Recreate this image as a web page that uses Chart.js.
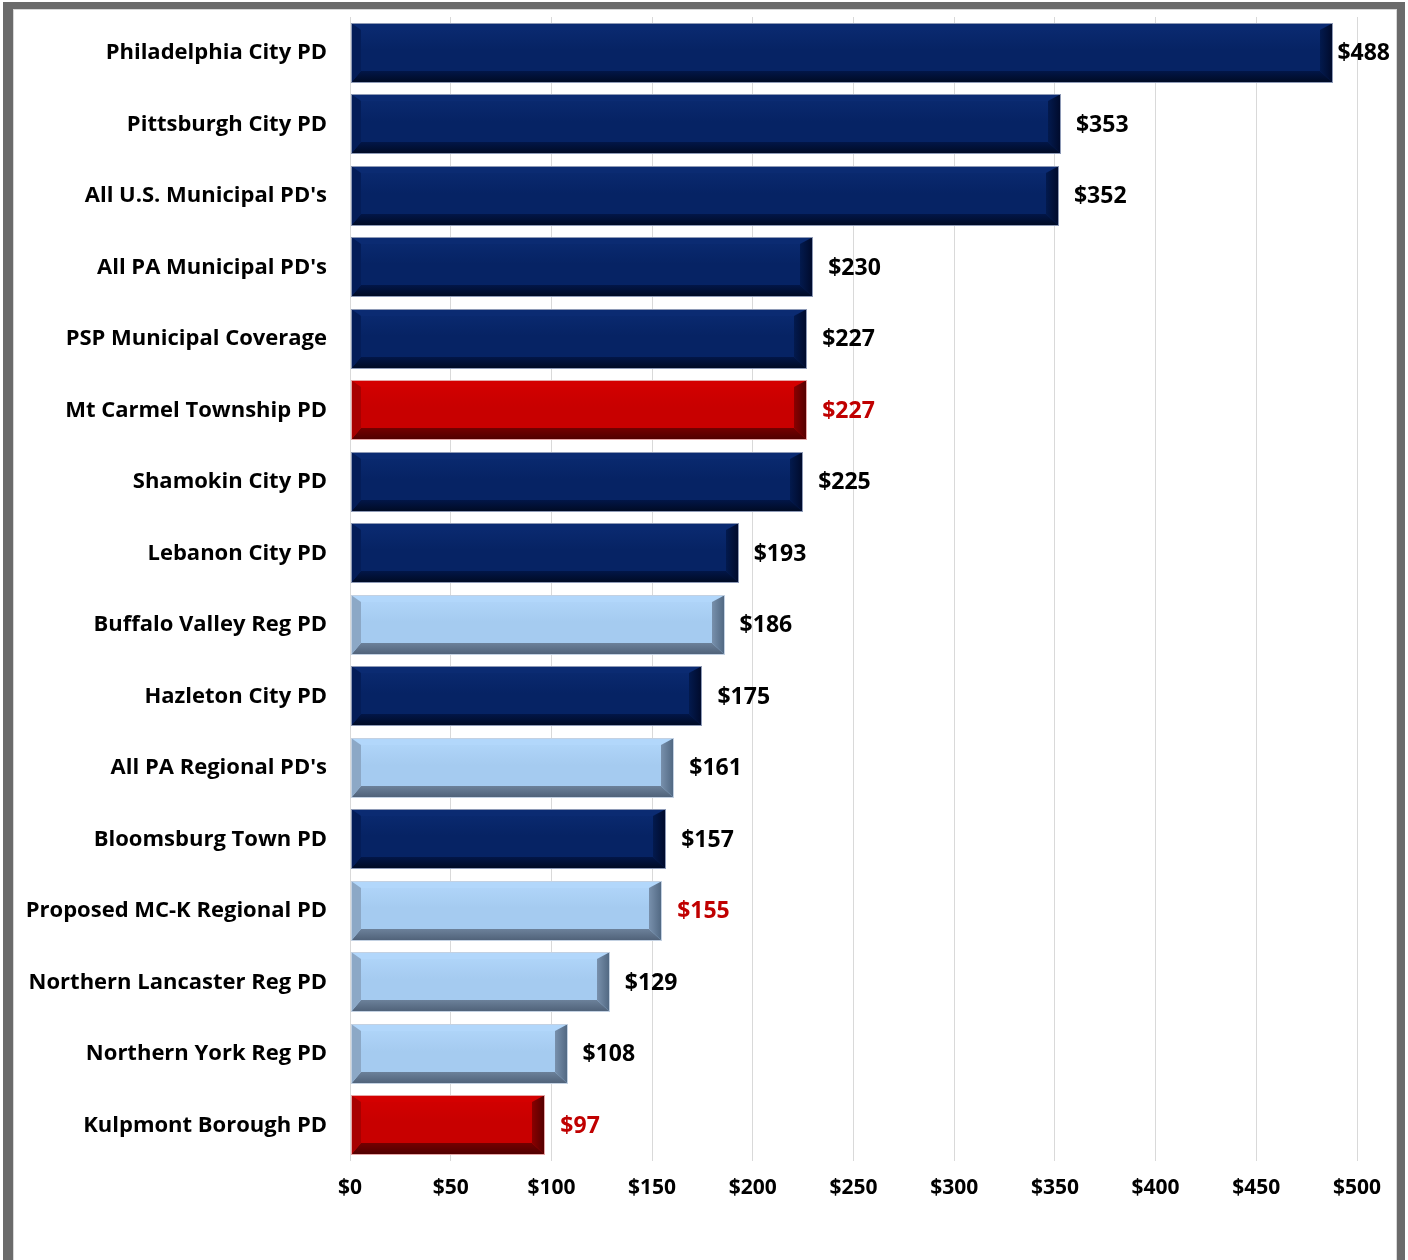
<!DOCTYPE html>
<html>
<head>
<meta charset="utf-8">
<title>Police cost per capita</title>
<script src="https://cdn.jsdelivr.net/npm/chart.js@4.4.1/dist/chart.umd.min.js"></script>
<style>
  html, body { margin: 0; padding: 0; background: #fff; }
  .wrap { position: relative; width: 1408px; height: 1260px; overflow: hidden; }
  .frame {
    position: absolute; left: 3px; top: 2px; width: 1384px; height: 1300px;
    border-left: 10px solid #6b6b6b; border-top: 7px solid #6b6b6b; border-right: 8px solid #6b6b6b;
    box-shadow: inset 1px 1px 0 #d8d8d8, inset -1px 0 0 #d8d8d8;
    pointer-events: none;
  }
  canvas { position: absolute; left: 0; top: 0; }
</style>
</head>
<body>
<div class="wrap">
  <canvas id="costChart" width="1408" height="1260"></canvas>
  <div class="frame"></div>
</div>
<script>
  // data
  const categories = [
    'Philadelphia City PD', 'Pittsburgh City PD', "All U.S. Municipal PD's", "All PA Municipal PD's",
    'PSP Municipal Coverage', 'Mt Carmel Township PD', 'Shamokin City PD', 'Lebanon City PD',
    'Buffalo Valley Reg PD', 'Hazleton City PD', "All PA Regional PD's", 'Bloomsburg Town PD',
    'Proposed MC-K Regional PD', 'Northern Lancaster Reg PD', 'Northern York Reg PD', 'Kulpmont Borough PD'
  ];
  const costs = [488, 353, 352, 230, 227, 227, 225, 193, 186, 175, 161, 157, 155, 129, 108, 97];
  // 'city' = municipal department, 'regional' = regional department, 'study' = the two under review
  const kinds = [
    'city', 'city', 'city', 'city', 'city', 'study', 'city', 'city',
    'regional', 'city', 'regional', 'city', 'regional', 'regional', 'regional', 'study'
  ];
  const redLabels = ['Mt Carmel Township PD', 'Proposed MC-K Regional PD', 'Kulpmont Borough PD'];
  const xTicks = [0, 50, 100, 150, 200, 250, 300, 350, 400, 450, 500];

  const FONT = '"Open Sans", Lato, sans-serif';

  const palettes = {
    city:     { face: '#062364', top: '#0b2b72', left: '#041d58', right1: '#031a4e', right2: '#000a2a', bot1: '#021648', bot2: '#000a22', border: '#8e9ab6' },
    study:    { face: '#c80000', top: '#d40000', left: '#a80000', right1: '#8a0000', right2: '#520000', bot1: '#740000', bot2: '#4e0000', border: '#e6a6a6' },
    regional: { face: '#a5cbf0', top: '#b2d7fb', left: '#8ca8c6', right1: '#7890ac', right2: '#4f6680', bot1: '#6c819a', bot2: '#4e6077', border: '#c3d1e2' }
  };

  function poly(ctx, pts, fill) {
    ctx.beginPath();
    ctx.moveTo(pts[0][0], pts[0][1]);
    for (let i = 1; i < pts.length; i++) ctx.lineTo(pts[i][0], pts[i][1]);
    ctx.closePath();
    ctx.fillStyle = fill;
    ctx.fill();
  }

  const bevelPlugin = {
    id: 'bevel',
    afterDatasetsDraw(chart) {
      const ctx = chart.ctx;
      const meta = chart.getDatasetMeta(0);
      ctx.save();
      meta.data.forEach(function (bar, i) {
        const p = bar.getProps(['x', 'y', 'base', 'height'], true);
        const pal = palettes[kinds[i]];
        const x0 = Math.round(p.base), x1 = Math.round(p.x);
        const yT = Math.round(p.y - p.height / 2), yB = Math.round(p.y + p.height / 2);
        const L = 10, R = 13, T = 7, B = 12;

        // face with soft sheen
        const face = ctx.createLinearGradient(0, yT, 0, yB);
        face.addColorStop(0, pal.top);
        face.addColorStop(0.45, pal.face);
        face.addColorStop(1, pal.face);
        ctx.fillStyle = face;
        ctx.fillRect(x0, yT, x1 - x0, yB - yT);

        poly(ctx, [[x0, yT], [x1, yT], [x1 - R, yT + T], [x0 + L, yT + T]], pal.top);
        const bg = ctx.createLinearGradient(0, yB - B, 0, yB);
        bg.addColorStop(0, pal.bot1);
        bg.addColorStop(1, pal.bot2);
        poly(ctx, [[x0, yB], [x1, yB], [x1 - R, yB - B], [x0 + L, yB - B]], bg);
        poly(ctx, [[x0, yT], [x0 + L, yT + T], [x0 + L, yB - B], [x0, yB]], pal.left);
        const rg = ctx.createLinearGradient(x1 - R, 0, x1, 0);
        rg.addColorStop(0, pal.right1);
        rg.addColorStop(1, pal.right2);
        poly(ctx, [[x1, yT], [x1 - R, yT + T], [x1 - R, yB - B], [x1, yB]], rg);

        ctx.strokeStyle = pal.border;
        ctx.lineWidth = 1;
        ctx.strokeRect(x0 + 0.5, yT + 0.5, x1 - x0 - 1, yB - yT - 1);
      });
      ctx.restore();
    },
    afterDraw(chart) {
      const ctx = chart.ctx;
      const meta = chart.getDatasetMeta(0);
      ctx.save();
      ctx.font = 'bold 23px ' + FONT;
      ctx.textAlign = 'left';
      ctx.textBaseline = 'middle';
      meta.data.forEach(function (bar, i) {
        const p = bar.getProps(['x', 'y'], true);
        const text = '$' + costs[i];
        const w = ctx.measureText(text).width;
        let x = p.x + 15;
        if (x + w > 1390) x = 1390 - w;
        ctx.fillStyle = redLabels.indexOf(categories[i]) >= 0 ? '#c00000' : '#000000';
        ctx.fillText(text, x, p.y + 1);
      });
      ctx.restore();
    }
  };

  new Chart(document.getElementById('costChart'), {
    type: 'bar',
    data: {
      labels: categories,
      datasets: [{
        data: costs,
        backgroundColor: 'rgba(0,0,0,0)',
        borderWidth: 0,
        barPercentage: 0.84,
        categoryPercentage: 1
      }]
    },
    options: {
      indexAxis: 'y',
      responsive: false,
      animation: false,
      layout: { padding: { left: 0, right: 51, top: 17, bottom: 0 } },
      plugins: { legend: { display: false }, tooltip: { enabled: false } },
      scales: {
        x: {
          min: 0,
          max: 500,
          afterFit: function (s) { s.height = 99; s.paddingLeft = 0; s.paddingRight = 0; },
          afterBuildTicks: function (s) { s.ticks = xTicks.map(function (v) { return { value: v }; }); },
          grid: { color: '#d9d9d9', lineWidth: 1, drawTicks: false },
          border: { display: false },
          ticks: {
            padding: 14,
            color: '#000',
            font: { family: FONT, size: 21, weight: 'bold' },
            callback: function (v) { return '$' + v; }
          }
        },
        y: {
          afterFit: function (s) { s.width = 350; s.paddingTop = 0; s.paddingBottom = 0; },
          grid: { display: false, drawTicks: false },
          border: { display: false },
          ticks: {
            padding: 23,
            color: '#000',
            font: { family: FONT, size: 22, weight: 'bold' }
          }
        }
      }
    },
    plugins: [bevelPlugin]
  });
</script>
</body>
</html>
